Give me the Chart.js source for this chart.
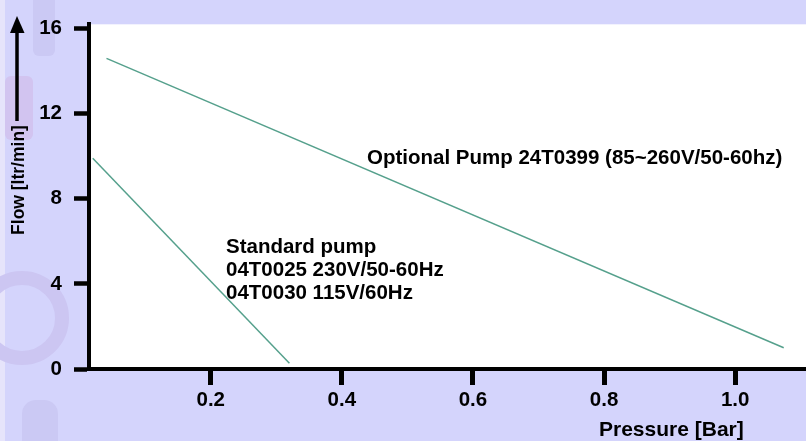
<!DOCTYPE html>
<html>
<head>
<meta charset="utf-8">
<script src="https://cdn.jsdelivr.net/npm/chart.js@4.4.1/dist/chart.umd.min.js"></script>
<style>
  body { margin: 0; background: #d4d4fc; }
  #wrap { width: 806px; height: 441px; position: relative; }
</style>
</head>
<body>
<div id="wrap"><canvas id="pumpChart"></canvas></div>
<script>
// curve end points
const optionalX = [0.041, 1.074];
const optionalY = [14.6, 1.0];
const standardX = [0.02, 0.32];
const standardY = [9.9, 0.27];

const xTicks = [0.2, 0.4, 0.6, 0.8, 1.0];
const yTicks = [0, 4, 8, 12, 16];

const optionalLabel = ["Optional Pump 24T0399 (85~260V/50-60hz)"];
const standardLabel = ["Standard pump", "04T0025 230V/50-60Hz", "04T0030 115V/60Hz"];

const xTitle = "Pressure [Bar]";
const yTitle = "Flow [ltr/min]";

const FONT = "'Liberation Sans', Arial, sans-serif";
const lineColor = "#55a08c";

const toPoints = (xs, ys) => xs.map((x, i) => ({ x: x, y: ys[i] }));

// background, watermark shapes and the white plot area
const backdrop = {
  id: "backdrop",
  beforeDraw(chart) {
    const { ctx, chartArea, width, height } = chart;
    ctx.save();
    ctx.fillStyle = "#d4d4fc";
    ctx.fillRect(0, 0, width, height);

    ctx.fillStyle = "#e6e4fb";
    ctx.fillRect(0, 0, 5, height);

    ctx.fillStyle = "#d2c4f0";
    ctx.beginPath();
    ctx.roundRect(5, 76, 28, 64, 6);
    ctx.fill();

    ctx.fillStyle = "#cbc9f4";
    ctx.beginPath();
    ctx.roundRect(33, -10, 22, 66, 6);
    ctx.fill();

    ctx.strokeStyle = "#ccc6f2";
    ctx.lineWidth = 14;
    ctx.beginPath();
    ctx.arc(22, 318, 40, 0, Math.PI * 2);
    ctx.stroke();

    ctx.fillStyle = "#cbc9f4";
    ctx.beginPath();
    ctx.roundRect(22, 400, 36, 60, 14);
    ctx.fill();

    ctx.fillStyle = "#ffffff";
    ctx.fillRect(chartArea.left, chartArea.top,
      chartArea.right - chartArea.left, chartArea.bottom - chartArea.top);
    ctx.restore();
  },
};

// axis titles, the flow arrow and the curve labels
const notes = {
  id: "notes",
  afterDraw(chart) {
    const { ctx } = chart;
    ctx.save();
    ctx.fillStyle = "#000";
    ctx.strokeStyle = "#000";

    ctx.font = "bold 21px " + FONT;
    ctx.textAlign = "left";
    ctx.textBaseline = "alphabetic";
    ctx.fillText(xTitle, 599, 436);

    ctx.font = "bold 20.5px " + FONT;
    optionalLabel.forEach((t, i) => ctx.fillText(t, 367, 164 + i * 23));
    standardLabel.forEach((t, i) => ctx.fillText(t, 226, 253 + i * 23));

    // arrow
    ctx.lineWidth = 3.5;
    ctx.beginPath();
    ctx.moveTo(17, 121);
    ctx.lineTo(17, 30);
    ctx.stroke();
    ctx.beginPath();
    ctx.moveTo(17, 16);
    ctx.lineTo(10, 33);
    ctx.lineTo(24.5, 33);
    ctx.closePath();
    ctx.fill();

    ctx.translate(19, 180);
    ctx.rotate(-Math.PI / 2);
    ctx.font = "bold 17.5px " + FONT;
    ctx.textAlign = "center";
    ctx.textBaseline = "middle";
    ctx.fillText(yTitle, 0, 0);
    ctx.restore();
  },
};

const ctx = document.getElementById("pumpChart");

new Chart(ctx, {
  type: "scatter",
  data: {
    datasets: [
      {
        label: "Optional",
        data: toPoints(optionalX, optionalY),
        showLine: true,
        borderColor: lineColor,
        borderWidth: 1.5,
        pointRadius: 0,
      },
      {
        label: "Standard",
        data: toPoints(standardX, standardY),
        showLine: true,
        borderColor: lineColor,
        borderWidth: 1.5,
        pointRadius: 0,
      },
    ],
  },
  options: {
    responsive: true,
    maintainAspectRatio: false,
    animation: false,
    layout: { padding: { top: 16, right: 0, left: 0, bottom: 0 } },
    plugins: {
      legend: { display: false },
      tooltip: { enabled: false },
    },
    scales: {
      x: {
        type: "linear",
        min: 0.0143,
        max: 1.108,
        afterBuildTicks: (scale) => {
          scale.ticks = xTicks.map((v) => ({ value: v }));
        },
        afterFit: (scale) => {
          scale.height = 72;
        },
        grid: {
          drawOnChartArea: false,
          tickLength: 16,
          tickWidth: 5,
          tickColor: "#000",
        },
        border: { color: "#000", width: 4 },
        ticks: {
          color: "#000",
          padding: 3,
          maxRotation: 0,
          font: { family: FONT, size: 20.5, weight: "bold" },
          callback: (v) => Number(v).toFixed(1),
        },
      },
      y: {
        min: 0,
        max: 16.2,
        afterBuildTicks: (scale) => {
          scale.ticks = yTicks.map((v) => ({ value: v }));
        },
        afterFit: (scale) => {
          scale.width = 89;
        },
        grid: {
          drawOnChartArea: false,
          tickLength: 15,
          tickWidth: 4.5,
          tickColor: "#000",
        },
        border: { color: "#000", width: 4 },
        ticks: {
          color: "#000",
          padding: 12,
          font: { family: FONT, size: 20.5, weight: "bold" },
        },
      },
    },
  },
  plugins: [backdrop, notes],
});
</script>
</body>
</html>
